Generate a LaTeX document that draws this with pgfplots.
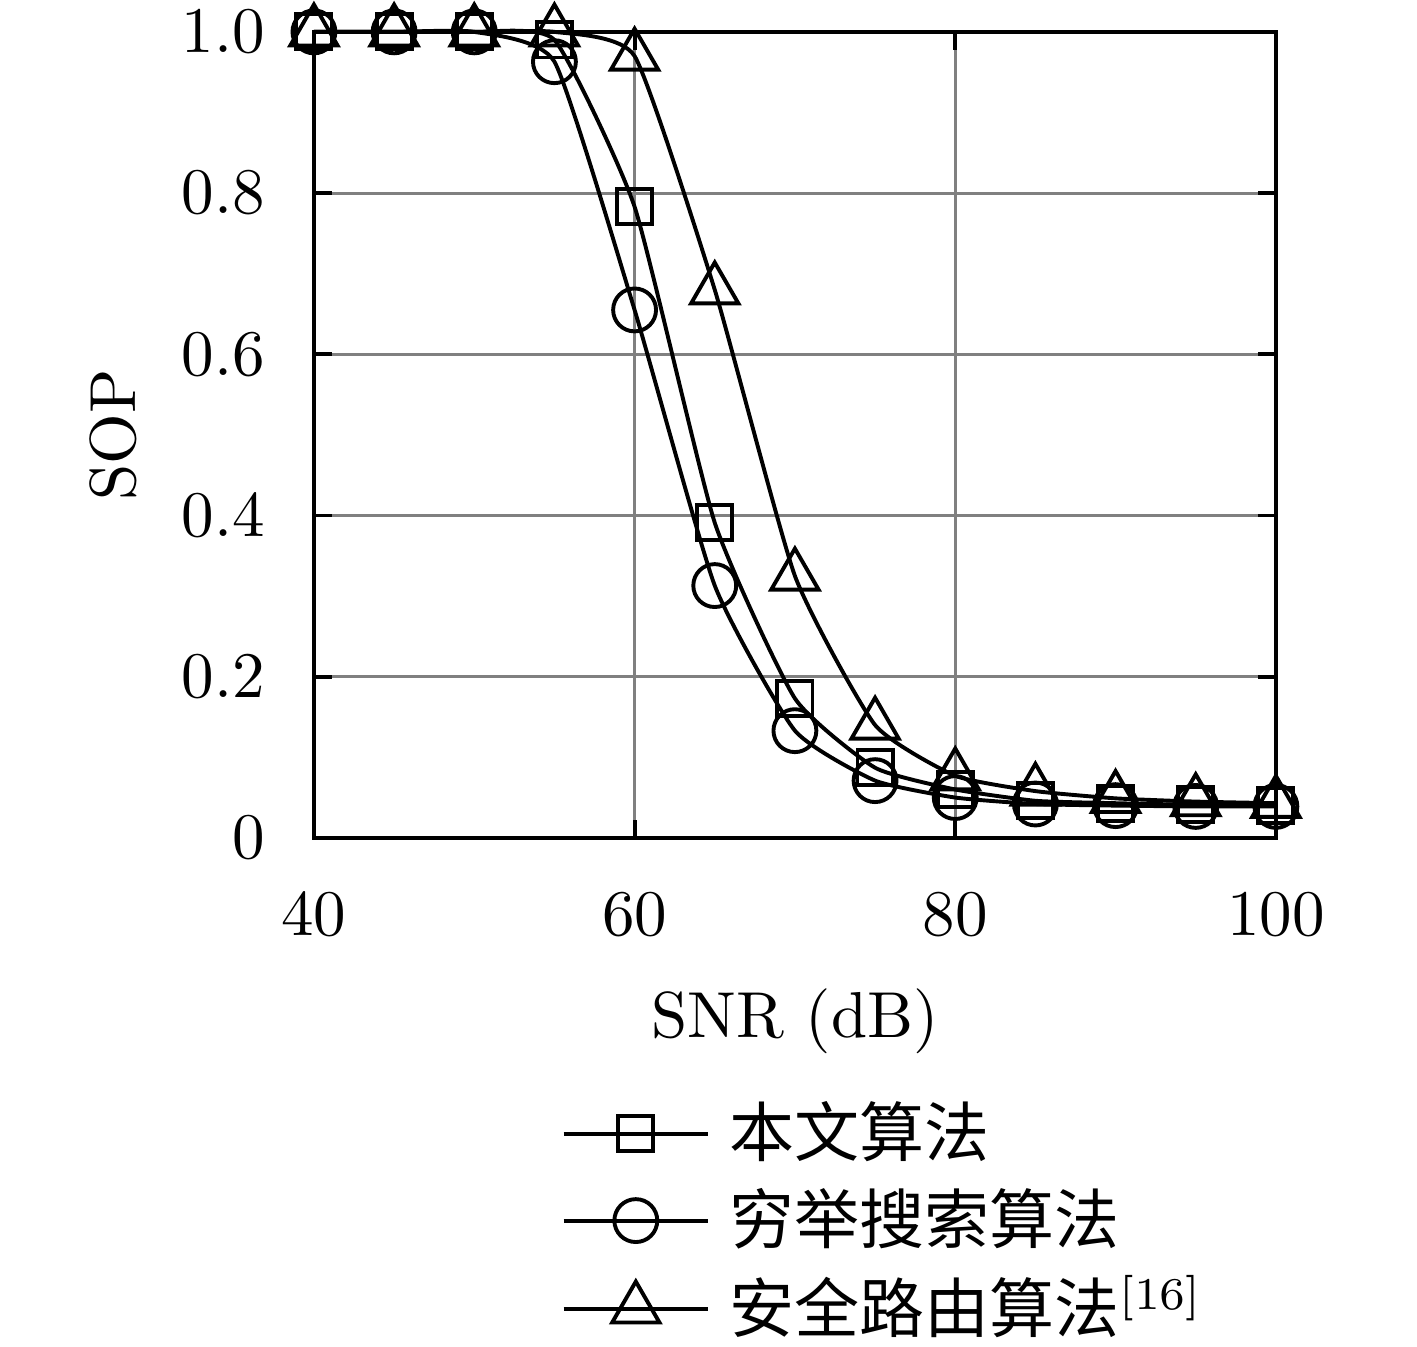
\documentclass[border=0pt]{standalone}
\usepackage{pgfplots}
\pgfplotsset{compat=1.18}
\usepackage{fontspec}
\newfontfamily\cjk{Noto Sans CJK SC}
\begin{document}
\begin{tikzpicture}
\begin{axis}[
  name=ax,
  scale only axis,
  width=148pt, height=124pt,
  xmin=40, xmax=100, ymin=0, ymax=1,
  xtick={40,60,80,100},
  ytick={0,0.2,0.4,0.6,0.8,1.0},
  yticklabels={0,0.2,0.4,0.6,0.8,1.0},
  grid=major,
  major grid style={gray, line width=0.45pt},
  axis line style={line width=0.6pt},
  tick style={black, line width=0.6pt},
  major tick length=2.8pt,
  xticklabel style={yshift=-5pt},
  yticklabel style={xshift=-4pt},
  xlabel={SNR (dB)},
  ylabel={SOP},
  xlabel style={yshift=-1.4pt},
  clip=false,
  legend style={at={(0.236,-0.301)}, anchor=north west, draw=none, fill=none, row sep=1.4pt, column sep=2pt, font=\cjk, nodes={inner sep=1pt}},
  legend cell align=left,
  legend image code/.code={\draw[#1, mark=none] (0cm,0cm) -- (0.78cm,0cm);
    \draw[#1, only marks] plot coordinates {(0.39cm,0cm)};},
]
\addplot[black, line width=0.6pt, smooth, tension=0.3, mark=square, mark size=2.7pt, mark options={solid, fill=none, line width=0.6pt}] coordinates {
(40,1.0) (45,1.0) (50,1.0) (55,0.99) (60,0.783) (65,0.391) (70,0.173) (75,0.087) (80,0.060) (85,0.046) (90,0.043) (95,0.041) (100,0.040)};
\addlegendentry{本文算法}
\addplot[black, line width=0.6pt, smooth, tension=0.3, mark=o, mark size=3.3pt, mark options={solid, fill=none, line width=0.6pt}] coordinates {
(40,1.0) (45,1.0) (50,1.0) (55,0.963) (60,0.655) (65,0.313) (70,0.133) (75,0.071) (80,0.050) (85,0.042) (90,0.040) (95,0.039) (100,0.039)};
\addlegendentry{穷举搜索算法}
\addplot[black, line width=0.6pt, smooth, tension=0.3, mark=triangle, mark size=4.2pt, mark options={solid, fill=none, line width=0.6pt}] coordinates {
(40,1.0) (45,1.0) (50,1.0) (55,1.0) (60,0.970) (65,0.680) (70,0.325) (75,0.140) (80,0.077) (85,0.058) (90,0.049) (95,0.045) (100,0.043)};
\addlegendentry{安全路由算法\textsuperscript{\rmfamily[16]}}
\end{axis}
\pgfresetboundingbox
\path[use as bounding box] ([xshift=-48.3pt,yshift=4.9pt]ax.north west) rectangle ([xshift=169.7pt,yshift=-202.2pt]ax.north west);
\end{tikzpicture}
\end{document}
